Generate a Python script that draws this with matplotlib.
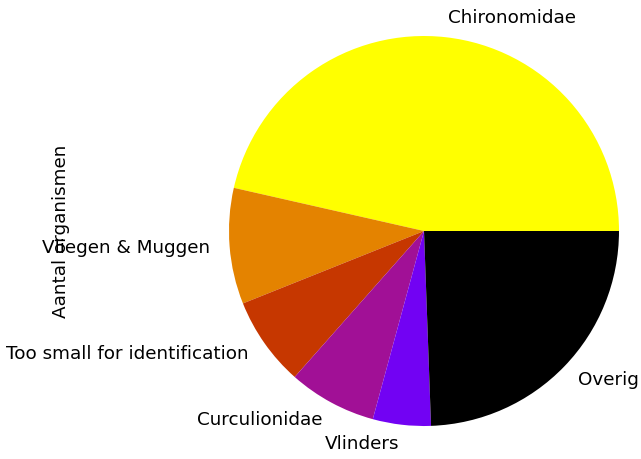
import matplotlib
matplotlib.use('Agg')
import matplotlib.pyplot as plt
import numpy as np

groups = ['Chironomidae', 'Vliegen & Muggen', 'Too small for identification',
          'Curculionidae', 'Vlinders', 'Overig']
aantal = [464, 96, 74, 73, 48, 244]

colors = plt.cm.gnuplot_r(np.linspace(0, 1, len(groups)))

fig = plt.figure(figsize=(6.41, 4.59), dpi=100)
ax = fig.add_axes([0, 0, 1, 1])
ax.pie(aantal, labels=groups, colors=colors, textprops={'fontsize': 13.2})

# pie centre at (424, 231) px, radius 195 px
r = 195.0
ax.set_aspect('auto')
ax.set_xlim(-424 / r, (641 - 424) / r)
ax.set_ylim(-(459 - 231) / r, 231 / r)
ax.set_ylabel('Aantal organismen', fontsize=13.2)
ax.yaxis.set_label_coords(70 / 641, 1 - 231 / 459)
ax.yaxis.label.set_visible(True)

fig.savefig('out.png', dpi=100)
